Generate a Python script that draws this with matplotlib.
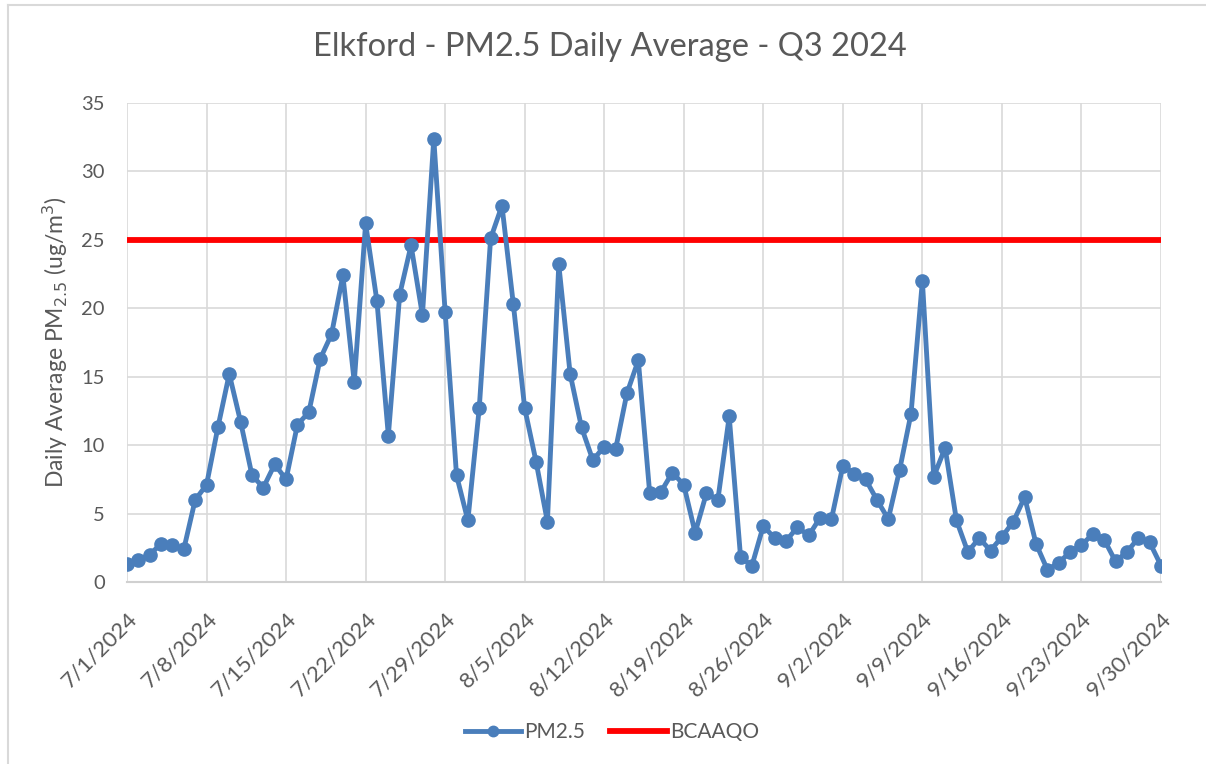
import matplotlib
matplotlib.use("Agg")
import matplotlib.pyplot as plt
import matplotlib.dates as mdates
import matplotlib.transforms as mtransforms
import pandas as pd
from matplotlib.lines import Line2D

plt.rcParams['font.family'] = ['Lato', 'DejaVu Sans']

start_date = "2024-07-01"
pm25_july = [1.3, 1.6, 2.0, 2.8, 2.7, 2.4, 6.0, 7.1, 11.3, 15.2, 11.7, 7.8, 6.9, 8.6, 7.5,
             11.5, 12.4, 16.3, 18.1, 22.4, 14.6, 26.2, 20.5, 10.7, 21.0, 24.6, 19.5, 32.4,
             19.7, 7.8, 4.5]
pm25_aug = [12.7, 25.1, 27.5, 20.3, 12.7, 8.8, 4.4, 23.2, 15.2, 11.3, 8.9, 9.9, 9.7, 13.8,
            16.2, 6.5, 6.6, 8.0, 7.1, 3.6, 6.5, 6.0, 12.1, 1.8, 1.2, 4.1, 3.2, 3.0, 4.0, 3.4, 4.7]
pm25_sep = [4.6, 8.5, 7.9, 7.5, 6.0, 4.6, 8.2, 12.3, 22.0, 7.7, 9.8, 4.5, 2.2, 3.2, 2.3, 3.3,
            4.4, 6.2, 2.8, 0.9, 1.4, 2.2, 2.7, 3.5, 3.1, 1.5, 2.2, 3.2, 2.9, 1.2]
pm25 = pm25_july + pm25_aug + pm25_sep
bcaaqo = 25
dates = pd.date_range(start_date, periods=len(pm25), freq="D")
tick_dates = pd.date_range(start_date, dates[-1], freq="7D")
tick_labels = [f"{d.month}/{d.day}/{d.year}" for d in tick_dates]
y_ticks = [0, 5, 10, 15, 20, 25, 30, 35]

W, H = 1206, 764
fig = plt.figure(figsize=(W / 100, H / 100), dpi=100)
border = "#D9D9D9"
fig.add_artist(Line2D([8 / W, 1], [1 - 5 / H, 1 - 5 / H], transform=fig.transFigure,
                      color=border, linewidth=1.5))
fig.add_artist(Line2D([8 / W, 8 / W], [0, 1 - 5 / H], transform=fig.transFigure,
                      color=border, linewidth=1.5))
ax = fig.add_axes([127 / W, (H - 582) / H, (1161 - 127) / W, (582 - 103) / H])

gray = "#595959"
blue = "#4A7EBB"
red = "#FF0000"
ax.plot(dates, [bcaaqo] * len(dates), color=red, linewidth=4.2, zorder=3)
ax.plot(dates, pm25, color=blue, linewidth=3.5, marker="o", markersize=9.5, zorder=4)

ax.set_xlim(dates[0], dates[-1])
ax.set_ylim(0, 35)
ax.set_yticks(y_ticks)
ax.set_xticks(tick_dates)
ax.set_xticklabels(tick_labels, rotation=45, ha="right", va="top", rotation_mode="anchor")
ax.tick_params(axis="both", length=0, colors=gray)
ax.tick_params(axis="y", pad=16, labelsize=14.5)
ax.tick_params(axis="x", pad=19, labelsize=16)
ax.grid(True, color="#D9D9D9", linewidth=1.2)
ax.set_axisbelow(True)
for s in ["top", "right", "left"]:
    ax.spines[s].set_visible(False)
ax.spines["bottom"].set_color("#D0D0D0")
ax.spines["bottom"].set_linewidth(1.5)

ax.set_ylabel("Daily Average PM$_{2.5}$ (ug/m$^3$)", fontsize=16.5, color=gray, labelpad=8)
fig.text(610 / W, 1 - 47 / H, "Elkford - PM2.5 Daily Average - Q3 2024", ha="center", va="center",
         fontsize=23.5, color=gray)

h_pm = Line2D([], [], color=blue, linewidth=3.5, marker="o", markersize=7.5)
h_aq = Line2D([], [], color=red, linewidth=4.2)
fig.legend([h_pm, h_aq], ["PM2.5", "BCAAQO"], loc="center",
           bbox_to_anchor=(612 / W, 1 - 732 / H), ncol=2, frameon=False, fontsize=15,
           handlelength=2.7, columnspacing=1.2, handletextpad=0.15, labelcolor=gray)

fig.savefig("out.png", dpi=100)
